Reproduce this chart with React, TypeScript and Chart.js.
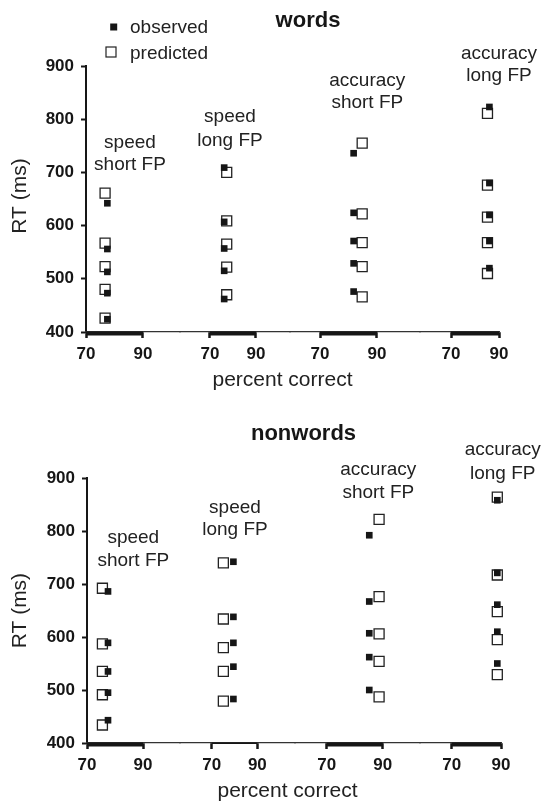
import React, { useEffect, useRef } from "react";
import { Chart, registerables } from "chart.js";

Chart.register(...registerables);

// ---------- data ----------
const groupLabels: string[][] = [
  ["speed", "short FP"],
  ["speed", "long FP"],
  ["accuracy", "short FP"],
  ["accuracy", "long FP"],
];
const xTickValues = [70, 90];
const yTicks = [400, 500, 600, 700, 800, 900];
const legendLabels = ["observed", "predicted"];
const xAxisTitle = "percent correct";
const yAxisTitle = "RT (ms)";
const panelTitles = ["words", "nonwords"];

// words
const wordsObservedPC = [77.5, 76.2, 81.8, 86.0];
const wordsPredictedPC = [76.7, 77.3, 84.8, 85.2];
const wordsObservedRT = [
  [642, 556, 513, 473, 424],
  [709, 607, 557, 515, 462],
  [736, 624, 571, 529, 476],
  [823, 680, 620, 571, 520],
];
const wordsPredictedRT = [
  [661, 567, 523, 480, 426],
  [700, 609, 565, 522, 470],
  [755, 622, 568, 523, 466],
  [811, 676, 616, 568, 510],
];

// nonwords
const nonwordsObservedPC = [77.5, 79.5, 85.2, 88.5];
const nonwordsPredictedPC = [75.5, 75.1, 88.7, 88.5];
const nonwordsObservedRT = [
  [686, 589, 535, 495, 443],
  [742, 638, 589, 544, 483],
  [792, 667, 607, 562, 500],
  [858, 721, 661, 610, 550],
];
const nonwordsPredictedRT = [
  [692, 587, 535, 491, 434],
  [740, 634, 580, 535, 479],
  [822, 676, 606, 554, 487],
  [864, 717, 648, 595, 529],
];

// ---------- layout / style ----------
const FONT = "'Liberation Sans', Arial, Helvetica, sans-serif";
const INK = "#161616";

type PanelCfg = {
  title: string;
  canvasH: number;
  padTop: number;
  padRight: number;
  yWidth: number;
  xHeight: number;
  weights: number[];
  ranges: number[][];
  segThickness: number[];
  titlePos: number[];
  groupText: number[][];
  xTitlePos: number[];
  yTitlePos: number[];
  legend: boolean;
  obsPC: number[];
  obsRT: number[][];
  predPC: number[];
  predRT: number[][];
};

const panels: PanelCfg[] = [
  {
    title: panelTitles[0],
    canvasH: 400,
    padTop: 66,
    padRight: 44,
    yWidth: 86,
    xHeight: 68,
    weights: [94, 110, 130, 79],
    ranges: [
      [70, 103],
      [57, 104.8],
      [59.47, 105.09],
      [57.08, 90],
    ],
    segThickness: [4, 4, 4, 4],
    titlePos: [308, 27.3],
    groupText: [
      [130, 148.3, 170],
      [230, 122.3, 145.7],
      [367.3, 86, 108.3],
      [499, 59.3, 81],
    ],
    xTitlePos: [282.5, 386],
    yTitlePos: [26, 196],
    legend: true,
    obsPC: wordsObservedPC,
    obsRT: wordsObservedRT,
    predPC: wordsPredictedPC,
    predRT: wordsPredictedRT,
  },
  {
    title: panelTitles[1],
    canvasH: 403,
    padTop: 78,
    padRight: 42,
    yWidth: 87,
    xHeight: 60,
    weights: [93, 115, 125, 81],
    ranges: [
      [70, 103.2],
      [56.1, 106.5],
      [58.7, 103.3],
      [57.1, 90],
    ],
    segThickness: [4, 1.5, 4, 4],
    titlePos: [303.5, 40],
    groupText: [
      [133.3, 143.3, 165.7],
      [235, 112.7, 135],
      [378.3, 75, 97.7],
      [502.7, 55, 79],
    ],
    xTitlePos: [287.5, 396.7],
    yTitlePos: [26, 210.6],
    legend: false,
    obsPC: nonwordsObservedPC,
    obsRT: nonwordsObservedRT,
    predPC: nonwordsPredictedPC,
    predRT: nonwordsPredictedRT,
  },
];

function makeAnnotPlugin(cfg: PanelCfg) {
  return {
    id: "annot" + cfg.title,
    afterDraw(chart: any) {
      const ctx: CanvasRenderingContext2D = chart.ctx;
      const area = chart.chartArea;
      ctx.save();
      // thick axis segments between 70 and 90
      for (let g = 0; g < 4; g++) {
        const sc = chart.scales["x" + (g + 1)];
        const a = sc.getPixelForValue(xTickValues[0]);
        const b = sc.getPixelForValue(xTickValues[1]);
        const t = cfg.segThickness[g];
        ctx.fillStyle = INK;
        ctx.fillRect(a, area.bottom - 0.5, b - a, t);
      }
      ctx.fillStyle = INK;
      // title
      ctx.font = `bold 22px ${FONT}`;
      ctx.textAlign = "center";
      ctx.textBaseline = "alphabetic";
      ctx.fillText(cfg.title, cfg.titlePos[0], cfg.titlePos[1]);
      // group labels
      ctx.font = `19px ${FONT}`;
      ctx.fillStyle = "#222";
      groupLabels.forEach((lines, g) => {
        const p = cfg.groupText[g];
        ctx.fillText(lines[0], p[0], p[1]);
        ctx.fillText(lines[1], p[0], p[2]);
      });
      // x axis title
      ctx.font = `21px ${FONT}`;
      ctx.fillText(xAxisTitle, cfg.xTitlePos[0], cfg.xTitlePos[1]);
      // y axis title
      ctx.save();
      ctx.translate(cfg.yTitlePos[0], cfg.yTitlePos[1]);
      ctx.rotate(-Math.PI / 2);
      ctx.fillText(yAxisTitle, 0, 0);
      ctx.restore();
      // legend
      if (cfg.legend) {
        ctx.fillStyle = INK;
        ctx.fillRect(110.2, 23.5, 7, 7);
        ctx.fillStyle = "#fff";
        ctx.strokeStyle = "#222";
        ctx.lineWidth = 1.2;
        ctx.fillRect(106, 47, 10, 10);
        ctx.strokeRect(106, 47, 10, 10);
        ctx.fillStyle = "#222";
        ctx.font = `19px ${FONT}`;
        ctx.textAlign = "left";
        ctx.fillText(legendLabels[0], 130, 33.3);
        ctx.fillText(legendLabels[1], 130, 59.3);
      }
      ctx.restore();
    },
  };
}

function Panel({ cfg }: { cfg: PanelCfg }) {
  const ref = useRef<HTMLCanvasElement>(null);
  useEffect(() => {
    if (!ref.current) return;
    const datasets: any[] = [];
    for (let g = 0; g < 4; g++) {
      datasets.push({
        label: legendLabels[0],
        data: cfg.obsRT[g].map((y) => ({ x: cfg.obsPC[g], y })),
        xAxisID: "x" + (g + 1),
        yAxisID: "y",
        pointStyle: "rect",
        pointRadius: 4.7,
        pointHoverRadius: 4.7,
        backgroundColor: INK,
        borderColor: INK,
        borderWidth: 0,
        showLine: false,
        clip: false,
        order: 0,
      });
      datasets.push({
        label: legendLabels[1],
        data: cfg.predRT[g].map((y) => ({ x: cfg.predPC[g], y })),
        xAxisID: "x" + (g + 1),
        yAxisID: "y",
        pointStyle: "rect",
        pointRadius: 7.07,
        pointHoverRadius: 7.07,
        backgroundColor: "#ffffff",
        borderColor: "#222",
        borderWidth: 1.3,
        showLine: false,
        clip: false,
        order: 1,
      });
    }
    const scales: any = {
      y: {
        type: "linear",
        position: "left",
        min: yTicks[0],
        max: yTicks[yTicks.length - 1],
        afterBuildTicks: (s: any) => {
          s.ticks = yTicks.map((v) => ({ value: v }));
        },
        afterFit: (s: any) => {
          s.width = cfg.yWidth;
        },
        ticks: {
          font: { family: FONT, size: 17, weight: "bold" },
          color: INK,
          padding: 7,
          callback: (v: any) => String(v),
        },
        grid: {
          drawOnChartArea: false,
          drawTicks: true,
          tickLength: 5,
          tickWidth: 2,
          tickColor: INK,
        },
        border: { display: true, color: INK, width: 2 },
      },
    };
    for (let g = 0; g < 4; g++) {
      scales["x" + (g + 1)] = {
        type: "linear",
        position: "bottom",
        stack: "pc",
        stackWeight: cfg.weights[g],
        weight: g + 1,
        min: cfg.ranges[g][0],
        max: cfg.ranges[g][1],
        afterBuildTicks: (s: any) => {
          s.ticks = xTickValues.map((v) => ({ value: v }));
        },
        afterFit: (s: any) => {
          s.height = cfg.xHeight;
        },
        ticks: {
          font: { family: FONT, size: 17, weight: "bold" },
          color: INK,
          padding: 6,
          autoSkip: false,
          maxRotation: 0,
          callback: (v: any) => String(v),
        },
        grid: {
          drawOnChartArea: false,
          drawTicks: true,
          tickLength: 6,
          tickWidth: 2.5,
          tickColor: INK,
        },
        border: { display: true, color: "#333", width: 1.2 },
      };
    }
    const chart = new Chart(ref.current, {
      type: "scatter",
      data: { datasets },
      options: {
        animation: false,
        responsive: false,
        devicePixelRatio: 1,
        layout: {
          padding: { top: cfg.padTop, right: cfg.padRight, left: 0, bottom: 0 },
        },
        plugins: {
          legend: { display: false },
          tooltip: { enabled: false },
          title: { display: false },
        },
        scales,
      } as any,
      plugins: [makeAnnotPlugin(cfg)],
    });
    return () => chart.destroy();
  }, [cfg]);
  return (
    <canvas
      ref={ref}
      width={543}
      height={cfg.canvasH}
      style={{ display: "block", width: 543, height: cfg.canvasH }}
    />
  );
}

export default function App() {
  return (
    <div
      style={{
        position: "absolute",
        left: 0,
        top: 0,
        width: 543,
        height: 803,
        background: "#fff",
      }}
    >
      {panels.map((p) => (
        <Panel key={p.title} cfg={p} />
      ))}
    </div>
  );
}
